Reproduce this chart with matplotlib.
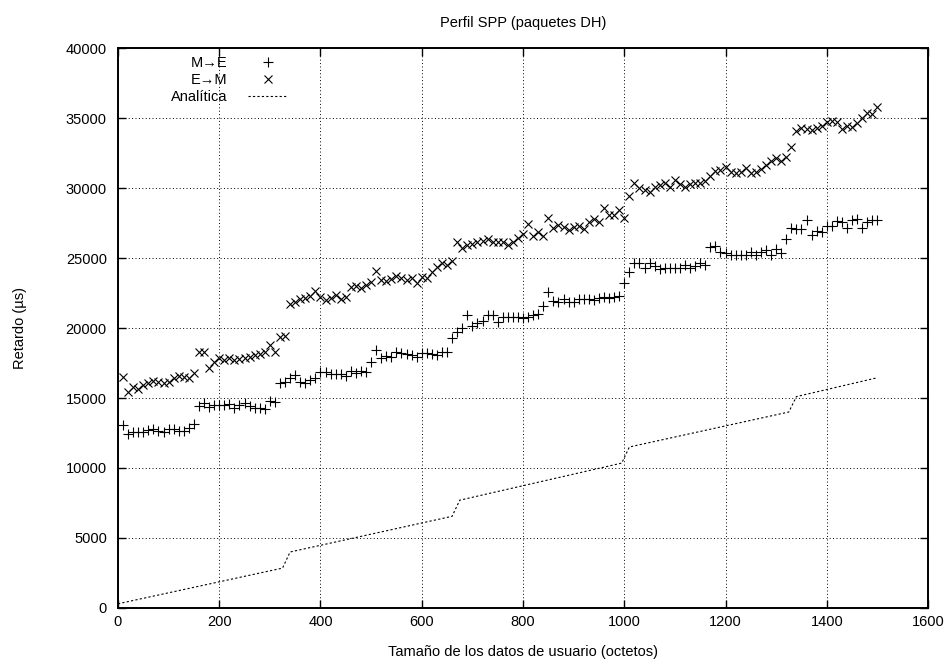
import matplotlib
matplotlib.use('Agg')
import matplotlib.pyplot as plt
import numpy as np

plt.rcParams['font.family'] = ['Liberation Sans', 'DejaVu Sans']

# tamaño de los datos de usuario (octetos), una muestra cada 10
sizes = np.arange(10, 1510, 10)

m_to_e = [
    13070, 12400, 12600, 12600, 12600, 12710, 12760, 12670, 12550, 12790,
    12760, 12640, 12640, 12830, 13120, 14430, 14640, 14360, 14500, 14500,
    14500, 14570, 14290, 14500, 14640, 14400, 14310, 14260, 14210, 14790,
    14690, 16050, 16170, 16410, 16640, 16170, 16050, 16290, 16450, 16830,
    16880, 16690, 16690, 16690, 16590, 16930, 16760, 16930, 16830, 17550,
    18430, 17830, 18000, 17950, 18260, 18190, 18120, 18070, 17950, 18190,
    18190, 18120, 18070, 18310, 18310, 19310, 19690, 19980, 20930, 20170,
    20340, 20500, 20930, 20930, 20450, 20810, 20810, 20810, 20810, 20690,
    20810, 20930, 20980, 21590, 22550, 21930, 21830, 22070, 21880, 21880,
    22070, 22070, 22070, 21990, 22160, 22240, 22160, 22210, 22310, 23190,
    23980, 24620, 24620, 24310, 24620, 24440, 24180, 24260, 24260, 24310,
    24310, 24500, 24260, 24430, 24620, 24500, 25760, 25860, 25450, 25330,
    25210, 25210, 25210, 25210, 25450, 25210, 25450, 25570, 25210, 25620,
    25380, 26330, 27120, 27070, 27070, 27710, 26640, 26930, 26830, 27310,
    27310, 27640, 27600, 27170, 27710, 27790, 27120, 27550, 27710, 27710,
]

e_to_m = [
    16520, 15450, 15810, 15640, 15930, 16100, 16240, 16170, 16050, 16170,
    16410, 16570, 16520, 16410, 16760, 18260, 18310, 17120, 17550, 17840,
    17710, 17840, 17710, 17790, 17840, 17920, 18070, 18120, 18260, 18790,
    18260, 19380, 19450, 21690, 21880, 22070, 22170, 22310, 22640, 22240,
    22000, 22170, 22360, 22070, 22240, 22950, 23020, 22880, 23070, 23310,
    24070, 23430, 23330, 23500, 23740, 23550, 23430, 23600, 23190, 23670,
    23550, 24020, 24380, 24620, 24520, 24790, 26120, 25690, 25930, 25980,
    26120, 26210, 26360, 26170, 26170, 26120, 25930, 26170, 26450, 26700,
    27410, 26600, 26880, 26600, 27830, 27120, 27360, 27240, 27000, 27240,
    27310, 27070, 27550, 27790, 27600, 28590, 28070, 28070, 28430, 27830,
    29450, 30340, 30020, 29860, 29690, 30040, 30210, 30340, 30090, 30570,
    30290, 30050, 30290, 30380, 30380, 30520, 30860, 31240, 31290, 31520,
    31170, 31100, 31170, 31410, 31100, 31170, 31340, 31640, 31950, 32120,
    31950, 32240, 32950, 34070, 34260, 34210, 34140, 34260, 34450, 34690,
    34790, 34690, 34210, 34450, 34380, 34620, 35020, 35330, 35260, 35810,
]

# curva analítica (vértices)
analytic_x = [0, 325, 340, 660, 675, 995, 1010, 1325, 1340, 1500]
analytic_y = [300, 2850, 4000, 6550, 7700, 10350, 11500, 14000, 15100, 16450]

fig = plt.figure(figsize=(9.53, 6.66), dpi=100)
ax = fig.add_axes([0.1238, 0.0871, 0.85, 0.8408])

ax.plot(sizes, m_to_e, linestyle='none', marker='+', markersize=6.5,
        markeredgewidth=0.8, color='black', label='M→E')
ax.plot(sizes, e_to_m, linestyle='none', marker='x', markersize=6,
        markeredgewidth=0.8, color='black', label='E→M')
ax.plot(analytic_x, analytic_y, linestyle=(0, (2, 2)), linewidth=0.8,
        color='black', label='Analítica')

ax.set_xlim(0, 1600)
ax.set_ylim(0, 40000)
ax.set_xticks(np.arange(0, 1601, 200))
ax.set_yticks(np.arange(0, 40001, 5000))
ax.grid(True, color='black', linestyle=(0, (1, 2.5)), linewidth=0.7)

ax.tick_params(direction='in', length=6, width=1, top=True, right=True,
               labelsize=10.5)
ax.tick_params(axis='x', pad=5)
ax.tick_params(axis='y', pad=8)
for s in ax.spines.values():
    s.set_linewidth(1.4)

ax.set_title('Perfil SPP (paquetes DH)', fontsize=10.5, pad=15)
ax.set_xlabel('Tamaño de los datos de usuario (octetos)', fontsize=10.5)
ax.set_ylabel('Retardo (µs)', fontsize=10.5)
ax.xaxis.set_label_coords(0.5, -0.066)
ax.yaxis.set_label_coords(-0.112, 0.5)

leg = ax.legend(loc='upper right', bbox_to_anchor=(0.21, 0.985),
                frameon=False, markerfirst=False, fontsize=10.5,
                handlelength=2.75, handletextpad=1.4, labelspacing=0.2,
                borderpad=0, borderaxespad=0)
# etiquetas alineadas a la derecha, como en gnuplot
for col in leg._legend_handle_box.get_children():
    col.align = 'right'

fig.savefig('out.png', dpi=100)
